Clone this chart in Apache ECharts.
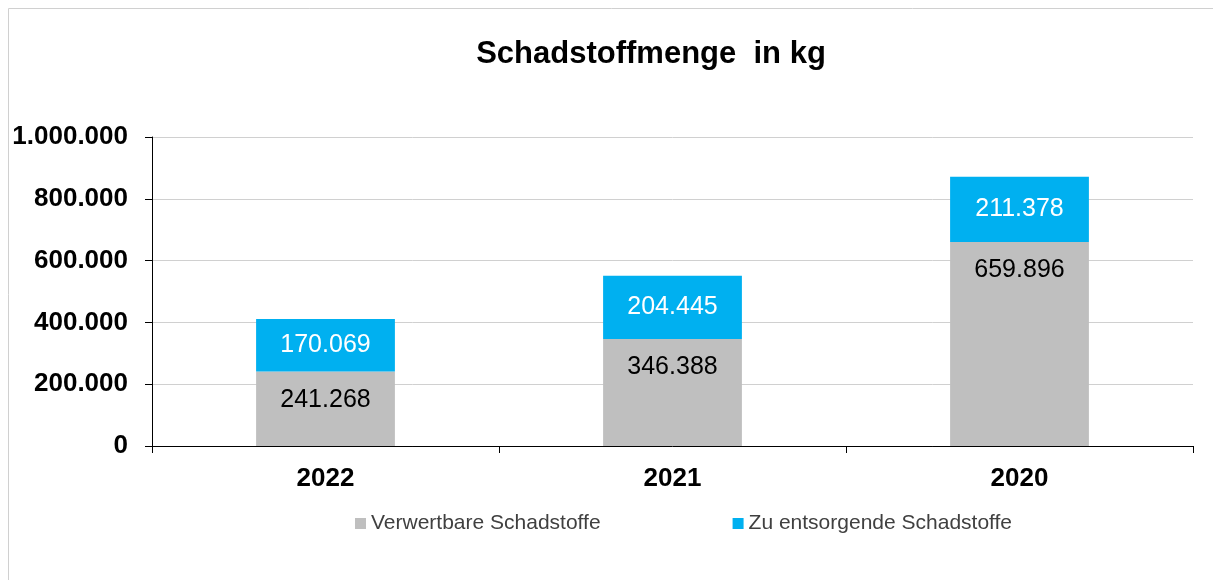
<!DOCTYPE html>
<html>
<head>
<meta charset="utf-8">
<script src="https://cdn.jsdelivr.net/npm/echarts@6/dist/echarts.min.js"></script>
<style>
    html, body { margin: 0; padding: 0; background: #fff; }
    #chart { width: 1213px; height: 580px; }
</style>
</head>
<body>
<div id="chart"></div>
<script>
var categories = ["2022", "2021", "2020"];
var verwertbar = [241268, 346388, 659896];
var entsorgen = [170069, 204445, 211378];
var seriesNames = ["Verwertbare Schadstoffe", "Zu entsorgende Schadstoffe"];

var FONT = "Liberation Sans, Arial, sans-serif";

// 1000000 -> "1.000.000"
function fmt(v) {
    return String(Math.round(v)).replace(/\B(?=(\d{3})+(?!\d))/g, ".");
}

var chart = echarts.init(document.getElementById("chart"));
chart.setOption({
    animation: false,
    graphic: [{
        type: "rect",
        shape: { x: 8.5, y: 8.5, width: 1300, height: 700 },
        style: { fill: "none", stroke: "#d0d0d0", lineWidth: 1 },
        silent: true
    }],
    title: {
        text: "Schadstoffmenge  in kg",
        left: 646,
        textAlign: "center",
        top: 34,
        textStyle: { fontFamily: FONT, fontSize: 31, fontWeight: "bold", color: "#000" }
    },
    legend: {
        top: 508,
        left: 350,
        itemGap: 132,
        itemWidth: 11,
        itemHeight: 11,
        icon: "rect",
        data: seriesNames,
        textStyle: { fontFamily: FONT, fontSize: 21, color: "#404040" }
    },
    grid: { left: 152, right: 20, top: 137, bottom: 134 },
    xAxis: {
        type: "category",
        data: categories,
        axisLine: { lineStyle: { color: "#000", width: 1 } },
        axisTick: { show: true, length: 7, lineStyle: { color: "#000" } },
        axisLabel: { fontFamily: FONT, fontSize: 26, fontWeight: "bold", color: "#000", margin: 20 }
    },
    yAxis: {
        type: "value",
        min: 0,
        max: 1000000,
        interval: 200000,
        axisLine: { show: true, lineStyle: { color: "#000", width: 1 } },
        axisTick: { show: true, length: 7, lineStyle: { color: "#000" } },
        splitLine: { lineStyle: { color: "#d0d0d0", width: 1 } },
        axisLabel: {
            fontFamily: FONT, fontSize: 26, fontWeight: "bold", color: "#000", margin: 24,
            formatter: fmt
        }
    },
    series: [{
        name: seriesNames[0],
        type: "bar",
        stack: "total",
        barWidth: "40%",
        data: verwertbar,
        itemStyle: { color: "#bfbfbf" },
        label: {
            show: true,
            position: "insideTop",
            distance: 16,
            fontFamily: FONT,
            fontSize: 25,
            color: "#000",
            formatter: function (p) { return fmt(p.value); }
        }
    }, {
        name: seriesNames[1],
        type: "bar",
        stack: "total",
        barWidth: "40%",
        data: entsorgen,
        itemStyle: { color: "#00b0f0" },
        label: {
            show: true,
            position: "inside",
            fontFamily: FONT,
            fontSize: 25,
            color: "#fff",
            formatter: function (p) { return fmt(p.value); }
        }
    }]
});
</script>
</body>
</html>
